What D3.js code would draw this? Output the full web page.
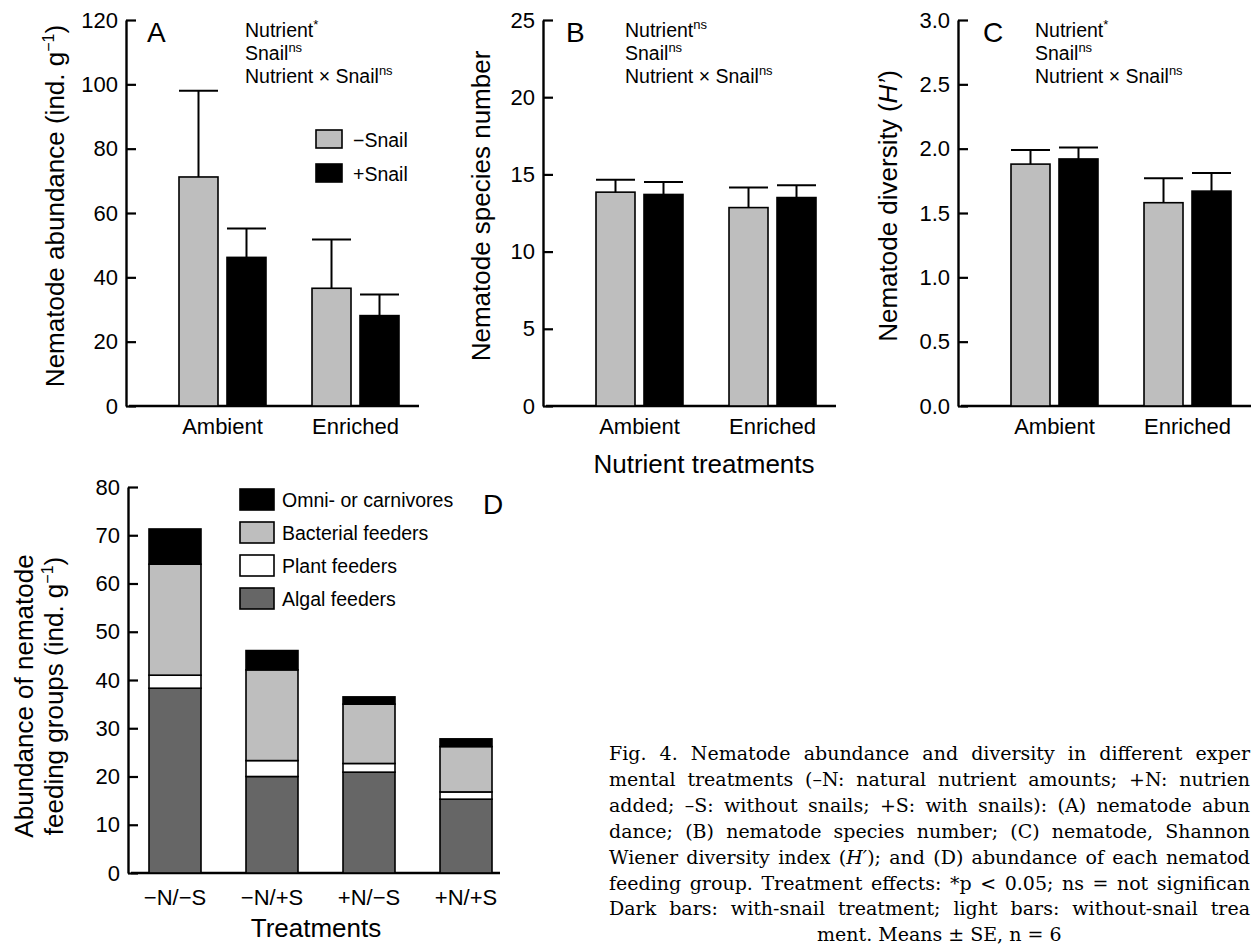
<!DOCTYPE html>
<html><head><meta charset="utf-8">
<script src="https://cdn.jsdelivr.net/npm/d3@7"></script>
<style>
body{margin:0;background:#fff;}
svg{display:block;}
text{font-family:"Liberation Sans", Arial, Helvetica, sans-serif; fill:#000;}
</style></head><body>
<svg id="chart" width="1254" height="945"></svg>
<script>
// ---------------- data ----------------
const groups = ["Ambient", "Enriched"];
const snailSeries = ["−Snail", "+Snail"];
const abundanceNoSnail = [71.2, 36.6];
const abundanceNoSnailSE = [26.8, 15.2];
const abundanceSnail = [46.2, 28.1];
const abundanceSnailSE = [9.0, 6.6];
const speciesNoSnail = [13.85, 12.85];
const speciesNoSnailSE = [0.8, 1.3];
const speciesSnail = [13.7, 13.5];
const speciesSnailSE = [0.8, 0.8];
const diversityNoSnail = [1.88, 1.58];
const diversityNoSnailSE = [0.11, 0.19];
const diversitySnail = [1.92, 1.67];
const diversitySnailSE = [0.09, 0.14];
const abundanceTicks = [0, 20, 40, 60, 80, 100, 120];
const speciesTicks = [0, 5, 10, 15, 20, 25];
const diversityTicks = [0, 0.5, 1.0, 1.5, 2.0, 2.5, 3.0];
const treatments = ["−N/−S", "−N/+S", "+N/−S", "+N/+S"];
const feedingKeys = ["Algal feeders", "Plant feeders", "Bacterial feeders", "Omni- or carnivores"];
const algalFeeders = [38.3, 20.0, 20.9, 15.3];
const plantFeeders = [2.7, 3.3, 1.8, 1.5];
const bacterialFeeders = [23.0, 18.8, 12.3, 9.4];
const omniCarnivores = [7.3, 4.0, 1.5, 1.6];
const feedingTicks = [0, 10, 20, 30, 40, 50, 60, 70, 80];
const statsA = [["Nutrient", "*"], ["Snail", "ns"], ["Nutrient × Snail", "ns"]];
const statsB = [["Nutrient", "ns"], ["Snail", "ns"], ["Nutrient × Snail", "ns"]];
const statsC = [["Nutrient", "*"], ["Snail", "ns"], ["Nutrient × Snail", "ns"]];
const captionLines = [
  "Fig. 4. Nematode abundance and diversity in different exper",
  "mental treatments (–N: natural nutrient amounts; +N: nutrien",
  "added; –S: without snails; +S: with snails): (A) nematode abun",
  "dance; (B) nematode species number; (C) nematode, Shannon",
  ["Wiener diversity index (", "H′", "); and (D) abundance of each nematod"],
  "feeding group. Treatment effects: *p < 0.05; ns = not significan",
  "Dark bars: with-snail treatment; light bars: without-snail trea",
  "ment. Means ± SE, n = 6"
];

// ---------------- drawing ----------------
const svg = d3.select("#chart");
const SANS = '"Liberation Sans", Arial, Helvetica, sans-serif';
const LIGHT = "#bebebe", DARK = "#666666";

function styleAxis(ga) {
  ga.attr("font-family", null).attr("font-size", null);
  ga.select(".domain").attr("stroke", "#000").attr("stroke-width", 2.4);
  ga.selectAll(".tick line").attr("stroke", "#000").attr("stroke-width", 2.2);
  ga.selectAll(".tick text").attr("x", -8).attr("text-anchor", "end")
    .attr("fill", "#000").style("font-size", "22px").style("font-family", SANS);
}

function drawTopPanel(p) {
  const g = svg.append("g");
  const y = d3.scaleLinear().domain([0, p.ticks[p.ticks.length - 1]]).range([406, 20]);
  const x0 = d3.scaleBand().domain(groups).range([p.ax + 53, p.ax + 273]).paddingInner(0.346).paddingOuter(0);
  const x1 = d3.scaleBand().domain(snailSeries).range([0, x0.bandwidth()]).paddingInner(0.1875).paddingOuter(0);

  const ga = g.append("g").attr("transform", `translate(${p.ax},0)`)
    .call(d3.axisRight(y).tickValues(p.ticks).tickSize(10).tickSizeOuter(0).tickFormat(p.fmt));
  styleAxis(ga);

  g.append("line").attr("x1", p.ax + 3).attr("x2", p.ax + 293)
    .attr("y1", y(0)).attr("y2", y(0)).attr("stroke", "#000").attr("stroke-width", 2.4);

  const rows = groups.map((grp, i) => ({
    grp,
    bars: [
      {s: snailSeries[0], v: p.noSnail[i], se: p.noSnailSE[i], fill: LIGHT},
      {s: snailSeries[1], v: p.snail[i], se: p.snailSE[i], fill: "#000"}
    ]
  }));
  const gg = g.selectAll("g.grp").data(rows).join("g").attr("class", "grp")
    .attr("transform", d => `translate(${x0(d.grp)},0)`);
  gg.selectAll("line.err").data(d => d.bars).join("line").attr("class", "err")
    .attr("x1", d => x1(d.s) + x1.bandwidth() / 2).attr("x2", d => x1(d.s) + x1.bandwidth() / 2)
    .attr("y1", d => y(d.v)).attr("y2", d => y(d.v + d.se))
    .attr("stroke", "#000").attr("stroke-width", 2);
  gg.selectAll("line.cap").data(d => d.bars).join("line").attr("class", "cap")
    .attr("x1", d => x1(d.s)).attr("x2", d => x1(d.s) + x1.bandwidth())
    .attr("y1", d => y(d.v + d.se)).attr("y2", d => y(d.v + d.se))
    .attr("stroke", "#000").attr("stroke-width", 2);
  gg.selectAll("rect").data(d => d.bars).join("rect")
    .attr("x", d => x1(d.s)).attr("width", x1.bandwidth())
    .attr("y", d => y(d.v)).attr("height", d => y(0) - y(d.v))
    .attr("fill", d => d.fill).attr("stroke", "#000").attr("stroke-width", 1.6);

  g.selectAll("text.glab").data(groups).join("text").attr("class", "glab")
    .attr("x", d => x0(d) + x0.bandwidth() / 2).attr("y", 434)
    .attr("text-anchor", "middle").style("font-size", "22px").text(d => d);

  p.stats.forEach((st, i) => {
    const t = g.append("text").attr("x", p.annX).attr("y", 37 + i * 23).style("font-size", "19.5px");
    t.append("tspan").text(st[0]);
    t.append("tspan").attr("dy", -8).style("font-size", "13px").text(st[1]);
  });

  g.append("text").attr("x", p.letterX).attr("y", 42).style("font-size", "28px").text(p.letter);

  const tt = g.append("text").attr("transform", `translate(${p.titleX},206) rotate(-90)`)
    .attr("text-anchor", "middle").style("font-size", "26px");
  p.title(tt);
}

drawTopPanel({ax: 126, ticks: abundanceTicks, fmt: d3.format("d"),
  noSnail: abundanceNoSnail, noSnailSE: abundanceNoSnailSE, snail: abundanceSnail, snailSE: abundanceSnailSE,
  stats: statsA, annX: 245, letter: "A", letterX: 147, titleX: 64,
  title: t => { t.append("tspan").text("Nematode abundance (ind. g");
    t.append("tspan").attr("dy", -10).style("font-size", "16px").text("−1");
    t.append("tspan").attr("dy", 10).text(")"); }});
drawTopPanel({ax: 543, ticks: speciesTicks, fmt: d3.format("d"),
  noSnail: speciesNoSnail, noSnailSE: speciesNoSnailSE, snail: speciesSnail, snailSE: speciesSnailSE,
  stats: statsB, annX: 625, letter: "B", letterX: 566, titleX: 490,
  title: t => t.text("Nematode species number")});
drawTopPanel({ax: 958, ticks: diversityTicks, fmt: d3.format(".1f"),
  noSnail: diversityNoSnail, noSnailSE: diversityNoSnailSE, snail: diversitySnail, snailSE: diversitySnailSE,
  stats: statsC, annX: 1035, letter: "C", letterX: 983, titleX: 897,
  title: t => { t.append("tspan").text("Nematode diversity (");
    t.append("tspan").style("font-style", "italic").text("H’");
    t.append("tspan").text(")"); }});

// legend for panel A
const legA = svg.append("g");
[[snailSeries[0], LIGHT], [snailSeries[1], "#000"]].forEach((d, i) => {
  legA.append("rect").attr("x", 316).attr("y", 130 + i * 34).attr("width", 26).attr("height", 18)
    .attr("fill", d[1]).attr("stroke", "#000").attr("stroke-width", 1.6);
  legA.append("text").attr("x", 353).attr("y", 146.5 + i * 34).style("font-size", "19.5px").text(d[0]);
});

svg.append("text").attr("x", 704).attr("y", 473).attr("text-anchor", "middle")
  .style("font-size", "26px").text("Nutrient treatments");

// ---------------- panel D ----------------
(function () {
  const axD = 128;
  const g = svg.append("g");
  const y = d3.scaleLinear().domain([0, 80]).range([873, 487]);
  const x = d3.scaleBand().domain(treatments).range([axD + 21, axD + 364]).paddingInner(0.464).paddingOuter(0);
  const ga = g.append("g").attr("transform", `translate(${axD},0)`)
    .call(d3.axisRight(y).tickValues(feedingTicks).tickSize(10).tickSizeOuter(0).tickFormat(d3.format("d")));
  styleAxis(ga);
  g.append("line").attr("x1", axD + 3).attr("x2", axD + 372).attr("y1", y(0)).attr("y2", y(0))
    .attr("stroke", "#000").attr("stroke-width", 2.4);

  const table = treatments.map((t, i) => ({
    treatment: t,
    "Algal feeders": algalFeeders[i],
    "Plant feeders": plantFeeders[i],
    "Bacterial feeders": bacterialFeeders[i],
    "Omni- or carnivores": omniCarnivores[i]
  }));
  const colors = d3.scaleOrdinal().domain(feedingKeys).range([DARK, "#ffffff", LIGHT, "#000000"]);
  const series = d3.stack().keys(feedingKeys)(table);
  g.selectAll("g.layer").data(series).join("g").attr("class", "layer")
    .attr("fill", d => colors(d.key))
    .selectAll("rect").data(d => d).join("rect")
    .attr("x", d => x(d.data.treatment)).attr("width", x.bandwidth())
    .attr("y", d => y(d[1])).attr("height", d => y(d[0]) - y(d[1]))
    .attr("stroke", "#000").attr("stroke-width", 1.6);

  g.selectAll("text.tl").data(treatments).join("text").attr("class", "tl")
    .attr("x", d => x(d) + x.bandwidth() / 2).attr("y", 905).attr("text-anchor", "middle")
    .style("font-size", "22px").text(d => d);
  g.append("text").attr("x", 316).attr("y", 937).attr("text-anchor", "middle")
    .style("font-size", "26px").text("Treatments");

  g.append("text").attr("transform", "translate(33,696) rotate(-90)")
    .attr("text-anchor", "middle").style("font-size", "26px").text("Abundance of nematode");
  const t2 = g.append("text").attr("transform", "translate(63,696) rotate(-90)")
    .attr("text-anchor", "middle").style("font-size", "26px");
  t2.append("tspan").text("feeding groups (ind. g");
  t2.append("tspan").attr("dy", -10).style("font-size", "16px").text("−1");
  t2.append("tspan").attr("dy", 10).text(")");

  const legOrder = feedingKeys.slice().reverse();
  legOrder.forEach((k, i) => {
    g.append("rect").attr("x", 240).attr("y", 489 + i * 33).attr("width", 34).attr("height", 21)
      .attr("fill", colors(k)).attr("stroke", "#000").attr("stroke-width", 1.6);
    g.append("text").attr("x", 282).attr("y", 507 + i * 33).style("font-size", "19.5px").text(k);
  });
  g.append("text").attr("x", 483).attr("y", 514).style("font-size", "28px").text("D");
})();

// ---------------- caption ----------------
const SERIF = '"DejaVu Serif", "Liberation Serif", serif';
captionLines.forEach((ln, i) => {
  const last = i === captionLines.length - 1;
  const t = svg.append("text").attr("x", last ? 817 : 609).attr("y", 760 + i * 25.9)
    .style("font-family", SERIF).style("font-size", "19px").attr("fill", "#222");
  if (Array.isArray(ln)) {
    t.append("tspan").text(ln[0]);
    t.append("tspan").style("font-style", "italic").text(ln[1]);
    t.append("tspan").text(ln[2]);
  } else t.text(ln);
  if (!last) {
    const full = Array.isArray(ln) ? ln.join("") : ln;
    const spaces = (full.match(/ /g) || []).length;
    const natural = t.node().getComputedTextLength();
    const target = 1250 - 609;
    if (natural < target) t.attr("word-spacing", (target - natural) / spaces);
    else t.attr("textLength", target).attr("lengthAdjust", "spacingAndGlyphs");
  }
});
</script>
</body></html>
